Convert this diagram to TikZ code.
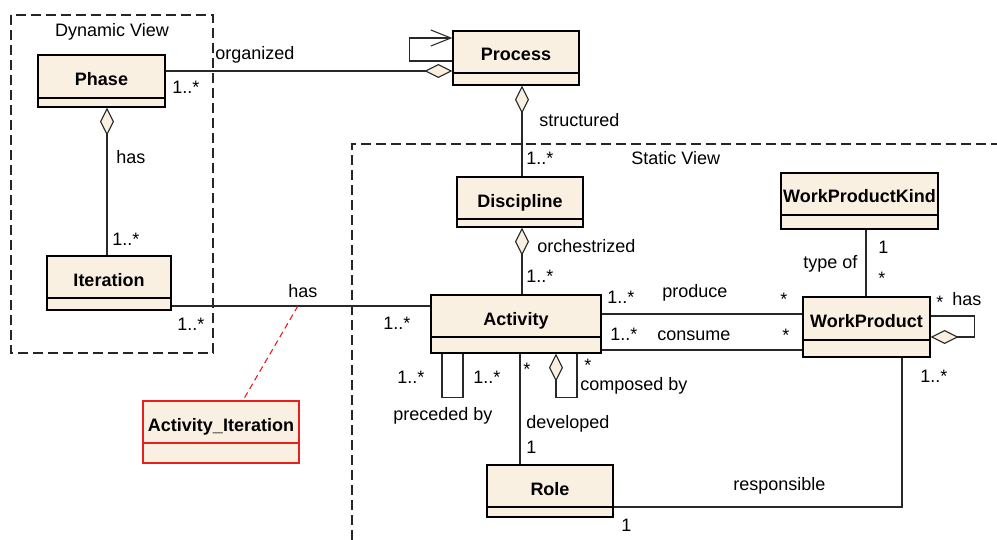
\documentclass[tikz,border=0pt]{standalone}
\usepackage{fontspec}
\setmainfont{Liberation Sans}
\usetikzlibrary{arrows.meta,calc,fit}
\definecolor{cream}{RGB}{250,240,225}
\definecolor{wirecol}{RGB}{40,40,40}
\definecolor{redbox}{RGB}{235,30,30}
\tikzset{
 cls/.style={draw=black, fill=cream, line width=0.65pt, inner sep=0pt},
 title/.style={font=\fontsize{9}{11}\selectfont\bfseries, inner sep=0pt, anchor=base},
 lbl/.style={font=\fontsize{9}{11}\selectfont, inner sep=0pt, anchor=base west},
 wire/.style={draw=wirecol, line width=0.55pt},
 agg/.tip={Diamond[length=14pt,width=7pt,fill=cream]},
 dashbox/.style={draw=black!85, line width=0.55pt, dash pattern=on 5pt off 2.5pt},
 notelink/.style={draw=redbox, line width=0.55pt, dash pattern=on 3pt off 2pt},
}
\newcommand{\umlclass}[8][black]{%
  \node[cls, draw=#1, fit={(#3,#4)(#5,#6)}] (#2) {};
  \draw[draw=#1, line width=0.65pt] (#3,#7) -- (#5,#7);
  \node[title] (#2t) at ({(#3+#5)/2},{#7-12}) {#8};
}
\begin{document}
\begin{tikzpicture}[x=0.5pt,y=-0.5pt]
\useasboundingbox (0,0) rectangle (997,540);
% packages
\draw[dashbox] (11,15) rectangle (213,353);
\node[font=\fontsize{9}{11}\selectfont, inner sep=0pt, anchor=base] (dynv) at (112,37) {Dynamic View};
\draw[dashbox] (352,540) -- (352,144) -- (997,144);
\node[lbl] (statv) at (631,165) {Static View};
% classes
\umlclass{phase}{38}{55}{165}{107}{98}{Phase}
\umlclass{iter}{47}{256}{171}{310}{298}{Iteration}
\umlclass{proc}{453}{31}{579}{85}{73}{Process}
\umlclass{disc}{457}{177}{583}{227}{219}{Discipline}
\umlclass{act}{431}{295}{601}{353}{337}{Activity}
\umlclass{wpk}{781}{173}{938}{229}{215}{WorkProductKind}
\umlclass{wp}{803}{297}{930}{357}{340}{WorkProduct}
\umlclass{role}{487}{465}{613}{517}{507}{Role}
\umlclass[redbox]{ai}{143}{401}{299}{463}{443}{Activity\_Iteration}
% connectors
\draw[wire,-{agg}] ($(phase.east)+(0,-10)$) -- ($(proc.west)+(0,13)$);
\draw[wire,-{Straight Barb[length=10pt,width=8pt]}] ($(proc.west)+(0,3)$) -- ++(-43,0) -- ++(0,-23) -- ($(proc.west)+(0,-20)$);
\draw[wire,{agg}-] ($(proc.south)+(6,0)$) -- ($(disc.north)+(2,0)$);
\draw[wire,{agg}-] ($(disc.south)+(2,0)$) -- ($(act.north)+(6,0)$);
\draw[wire,{agg}-] ($(phase.south)+(5.5,0)$) -- ($(iter.north)+(-2,0)$);
\draw[wire] ($(iter.east)+(0,23)$) -- coordinate[pos=0.488] (hasp) ($(act.west)+(0,-18)$);
\draw[notelink] (hasp) -- ($(ai.north)+(22,0)$);
\draw[wire] ($(act.east)+(0,-10)$) -- ($(wp.west)+(0,-13)$);
\draw[wire] ($(act.east)+(0,26)$) -- ($(wp.west)+(0,23)$);
\draw[wire] ($(wpk.south)+(6.5,0)$) -- ($(wp.north)+(-0.5,0)$);
\draw[wire,-{agg}] ($(wp.east)+(0,-11)$) -- ++(44,0) -- ++(0,21) -- ($(wp.east)+(0,10)$);
\draw[wire] ($(wp.south)+(35.5,0)$) |- ($(role.east)+(0,16)$);
\draw[wire] ($(act.south)+(4,0)$) -- ($(role.north)+(-30,0)$);
\draw[wire] ($(act.south)+(-74,0)$) -- ++(0,44) -- ++(21,0) -- ($(act.south)+(-53,0)$);
\draw[wire,{agg}-] ($(act.south)+(40,0)$) -- ++(0,44) -- ++(21,0) -- ($(act.south)+(61,0)$);
% labels
\node[lbl] (l1) at (215,60) {organized};
\node[lbl] (l2) at (172,94) {1..*};
\node[lbl] (l3) at (116,163) {has};
\node[lbl] (l4) at (112,245) {1..*};
\node[lbl] (l5) at (288,298) {has};
\node[lbl] (l6) at (177,330) {1..*};
\node[lbl] (l7) at (383,329) {1..*};
\node[lbl] (l8) at (539,127) {structured};
\node[lbl] (l9) at (526,165) {1..*};
\node[lbl] (l10) at (537,252) {orchestrized};
\node[lbl] (l11) at (526,283) {1..*};
\node[lbl] (l12) at (607,303) {1..*};
\node[lbl] (l13) at (662,298) {produce};
\node[lbl] (l14) at (780,305) {*};
\node[lbl] (l15) at (610,340) {1..*};
\node[lbl] (l16) at (657,340) {consume};
\node[lbl] (l17) at (782,341) {*};
\node[lbl] (l18) at (803,269) {type of};
\node[lbl] (l19) at (878,254) {1};
\node[lbl] (l20) at (878,285) {*};
\node[lbl] (l21) at (936,308) {*};
\node[lbl] (l22) at (952,306) {has};
\node[lbl] (l23) at (920,382) {1..*};
\node[lbl] (l24) at (733,490) {responsible};
\node[lbl] (l25) at (621,531) {1};
\node[lbl] (l26) at (526,428) {developed};
\node[lbl] (l27) at (526,453) {1};
\node[lbl] (l28) at (523,375) {*};
\node[lbl] (l29) at (397,383) {1..*};
\node[lbl] (l30) at (473,383) {1..*};
\node[lbl] (l31) at (393,420) {preceded by};
\node[lbl] (l32) at (584,371) {*};
\node[lbl] (l33) at (580,390) {composed by};
\end{tikzpicture}
\end{document}
